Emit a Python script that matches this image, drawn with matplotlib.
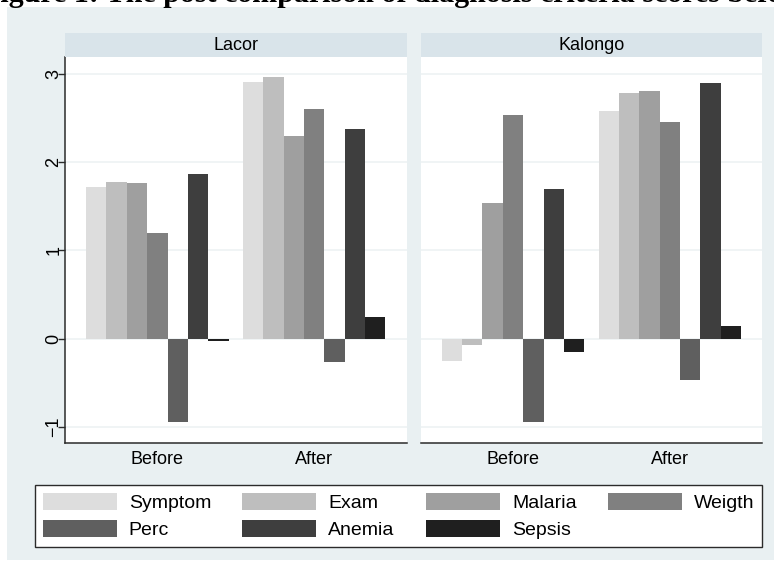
import numpy as np
import matplotlib.pyplot as plt
from matplotlib.patches import Rectangle, Patch

# scores per criterion, before/after, for each site
categories = ["Symptom", "Exam", "Malaria", "Weigth", "Perc", "Anemia", "Sepsis"]
periods = ["Before", "After"]
sites = ["Lacor", "Kalongo"]

lacor_before = [1.72, 1.78, 1.76, 1.20, -0.94, 1.86, -0.02]
lacor_after = [2.91, 2.96, 2.29, 2.60, -0.26, 2.38, 0.25]
kalongo_before = [-0.25, -0.07, 1.54, 2.53, -0.94, 1.69, -0.15]
kalongo_after = [2.58, 2.78, 2.80, 2.45, -0.47, 2.89, 0.15]

site_values = {
    "Lacor": [lacor_before, lacor_after],
    "Kalongo": [kalongo_before, kalongo_after],
}

colors = ["#dddddd", "#bebebe", "#9f9f9f", "#808080", "#5f5f5f", "#3e3e3e", "#1f1f1f"]
bg = "#e9f0f2"
strip_bg = "#d9e4ea"
grid_col = "#edf2f4"

plt.rcParams['font.family'] = ['Liberation Sans', 'DejaVu Sans']

W, H = 774, 565
fig = plt.figure(figsize=(W / 100, H / 100), dpi=100, facecolor="white")

# graph region background
fig.patches.append(Rectangle((7 / W, 1 - 560 / H), 1 - 7 / W, (560 - 7) / H,
                             transform=fig.transFigure, facecolor=bg,
                             edgecolor="none", zorder=-10))

# page caption above the graph, only its lower edge falls on the canvas
fig.text(-18 / W, 1 - 2 / H,
         "Figure 1: The post comparison of diagnosis criteria scores before and after",
         fontsize=21.6, fontweight="bold", family="Liberation Serif",
         ha="left", va="baseline")

bar_w = 0.13
x = np.arange(len(periods))
panel_left = [65 / W, 420.7 / W]
panel_w = 341.5 / W
ax_bottom = 1 - 443 / H
ax_h = (443 - 57) / H
strip_bottom = 1 - 57 / H
strip_h = 24 / H

for k, site in enumerate(sites):
    ax = fig.add_axes([panel_left[k], ax_bottom, panel_w, ax_h])
    ax.set_facecolor("white")
    for i, cat in enumerate(categories):
        vals = [site_values[site][p][i] for p in range(len(periods))]
        ax.bar(x + (i - 3) * bar_w, vals, width=bar_w, color=colors[i],
               edgecolor="none", zorder=3, label=cat)

    ax.set_xlim(-0.589, 1.589)
    ax.set_ylim(-1.18, 3.19)
    ax.set_yticks([-1, 0, 1, 2, 3])
    ax.yaxis.grid(True, color=grid_col, linewidth=1.2, zorder=0)
    ax.set_axisbelow(True)
    ax.set_xticks(x)
    ax.set_xticklabels(periods, fontsize=13)
    ax.tick_params(axis="x", length=0, pad=6)

    for side in ["top", "right"]:
        ax.spines[side].set_visible(False)
    ax.spines["bottom"].set_color("#2b2b2b")
    ax.spines["bottom"].set_linewidth(1.1)

    if k == 0:
        ax.spines["left"].set_color("#2b2b2b")
        ax.spines["left"].set_linewidth(1.1)
        ax.tick_params(axis="y", length=5, width=1, color="#2b2b2b", pad=-3,
                       labelsize=13)
        for lab in ax.get_yticklabels():
            lab.set_rotation(90)
            lab.set_va("center")
    else:
        ax.spines["left"].set_visible(False)
        ax.tick_params(axis="y", length=0, labelleft=False)

    # panel header strip
    sax = fig.add_axes([panel_left[k], strip_bottom, panel_w, strip_h])
    sax.set_facecolor(strip_bg)
    sax.set_xticks([])
    sax.set_yticks([])
    for s in sax.spines.values():
        s.set_visible(False)
    sax.text(0.5, 0.5, site, ha="center", va="center", fontsize=13,
             transform=sax.transAxes)

# legend: rows Symptom..Weigth / Perc..Sepsis, matplotlib fills by column
order = [0, 4, 1, 5, 2, 6, 3]
handles = [Patch(facecolor=colors[i], edgecolor="none") for i in order]
labels = [categories[i] for i in order]
leg = fig.legend(handles, labels, ncol=4, loc="lower left",
                 bbox_to_anchor=(35 / W, 1 - 547 / H, (762 - 35) / W, (547 - 484) / H),
                 mode="expand", fontsize=14, frameon=True, fancybox=False,
                 handlelength=3.8, handleheight=1.0, handletextpad=0.62,
                 labelspacing=0.4, borderpad=0.4, borderaxespad=0,
                 columnspacing=1.8)
leg.get_frame().set_edgecolor("#2b2b2b")
leg.get_frame().set_linewidth(1.0)
leg.get_frame().set_facecolor("white")
leg.get_frame().set_alpha(1)

fig.savefig("out.png", dpi=100)
